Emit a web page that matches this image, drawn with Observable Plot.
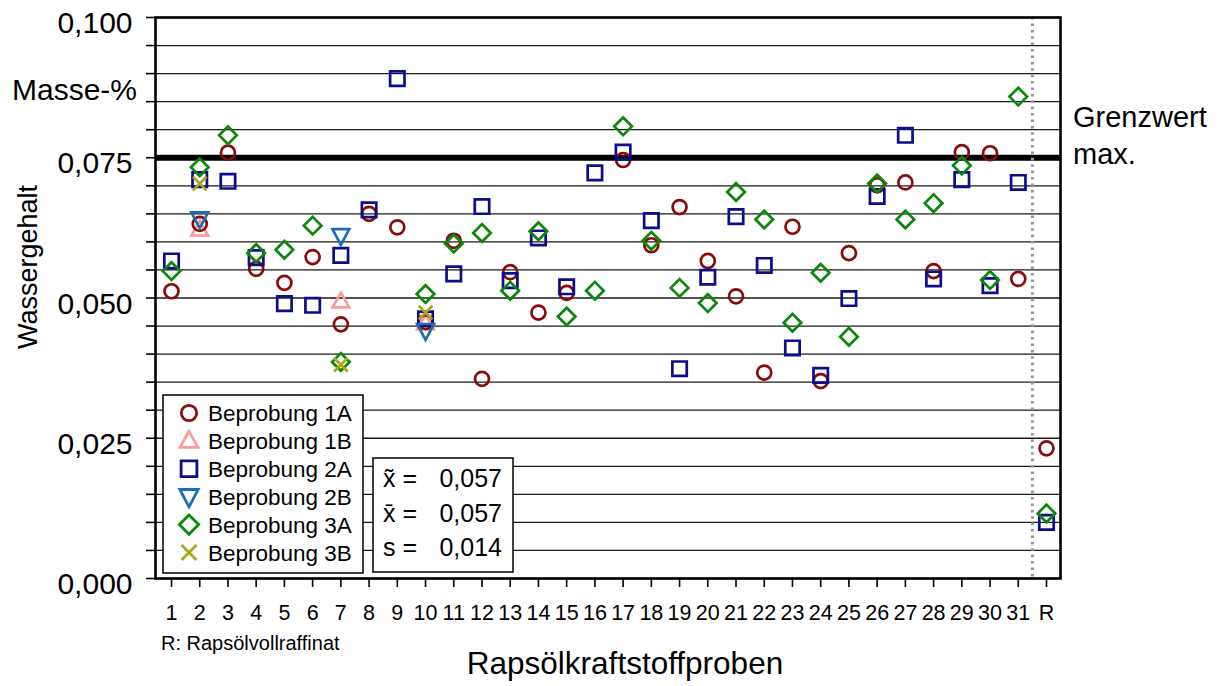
<!DOCTYPE html>
<html>
<head>
<meta charset="utf-8">
<script src="https://cdn.jsdelivr.net/npm/d3@7"></script>
<script src="https://cdn.jsdelivr.net/npm/@observablehq/plot@0.6"></script>
<style>
  html, body { margin: 0; padding: 0; background: #fff; }
  #chart { position: relative; width: 1222px; height: 686px; }
  #chart svg { display: block; }
</style>
</head>
<body>
<div id="chart"></div>
<script>
// Proben 1–31 und das Rapsölvollraffinat (R)
const categories = ["1","2","3","4","5","6","7","8","9","10","11","12","13","14","15","16",
  "17","18","19","20","21","22","23","24","25","26","27","28","29","30","31","R"];

// Wassergehalt in Masse-% je Beprobung (null = keine Messung)
const probe1A = [0.0512,0.0632,0.0759,0.0552,0.0527,0.0573,0.0453,0.0650,0.0626,0.0457,0.0602,0.0356,
  0.0546,0.0474,0.0509,null,0.0746,0.0594,0.0662,0.0566,0.0503,0.0367,0.0627,0.0352,0.0580,0.0701,
  0.0706,0.0548,0.0760,0.0758,0.0534,0.0232];
const probe1B = [null,0.0622,null,null,null,null,0.0494,null,null,0.0455,null,null,null,null,null,null,
  null,null,null,null,null,null,null,null,null,null,null,null,null,null,null,null];
const probe2A = [0.0566,0.0711,0.0708,0.0572,0.0490,0.0487,0.0576,0.0657,0.0891,0.0463,0.0543,0.0663,
  0.0531,0.0607,0.0520,0.0723,0.0760,0.0638,0.0374,0.0537,0.0645,0.0558,0.0411,0.0362,0.0499,0.0681,
  0.0790,0.0534,0.0711,0.0522,0.0706,0.0100];
const probe2B = [null,0.0641,null,null,null,null,0.0611,null,null,0.0442,null,null,null,null,null,null,
  null,null,null,null,null,null,null,null,null,null,null,null,null,null,null,null];
const probe3A = [0.0548,0.0733,0.0790,0.0580,0.0586,0.0629,0.0386,null,null,0.0507,0.0597,0.0616,
  0.0513,0.0619,0.0467,0.0513,0.0806,0.0602,0.0518,0.0491,0.0689,0.0640,0.0456,0.0545,0.0431,0.0704,
  0.0640,0.0669,0.0736,0.0532,0.0859,0.0116];
const probe3B = [null,0.0704,null,null,null,null,0.0381,null,null,0.0474,null,null,null,null,null,null,
  null,null,null,null,null,null,null,null,null,null,null,null,null,null,null,null];

const limitValue = 0.075;                         // Grenzwert max.
const yMajorTicks = [0, 0.025, 0.05, 0.075, 0.1];
const yGridStep = 0.005;
const statsLabels = ["x\u0303 =", "x\u0304 =", "s ="];
const statsValues = [0.057, 0.057, 0.014];

const FONT = "'Liberation Sans', Arial, Helvetica, sans-serif";
const fmt = d3.formatLocale({decimal: ",", thousands: ".", grouping: [3], currency: ["", ""]}).format(".3f");

// Outline symbols; the radius follows the r option of each dot mark
const polygon = (pts) => ({
  draw(ctx, size) {
    const r = Math.sqrt(size / Math.PI);
    pts.forEach(([x, y], k) => k ? ctx.lineTo(x * r, y * r) : ctx.moveTo(x * r, y * r));
    ctx.closePath();
  }
});
const symCircle = {draw(ctx, size) { const r = Math.sqrt(size / Math.PI); ctx.moveTo(r, 0); ctx.arc(0, 0, r, 0, 2 * Math.PI); }};
const symSquare = polygon([[-1, -1], [1, -1], [1, 1], [-1, 1]]);
const symDiamond = polygon([[0, -1], [1, 0], [0, 1], [-1, 0]]);
const symTriUp = polygon([[0, -1.05], [1, 0.72], [-1, 0.72]]);
const symTriDown = polygon([[0, 1.1], [1, -0.78], [-1, -0.78]]);
const symTimes = {draw(ctx, size) {
  const r = Math.sqrt(size / Math.PI);
  ctx.moveTo(-r, -r); ctx.lineTo(r, r); ctx.moveTo(r, -r); ctx.lineTo(-r, r);
}};

const series = [
  {name: "Beprobung 1B", values: probe1B, symbol: symTriUp,   r: 8.3, color: "#ff9a9a"},
  {name: "Beprobung 1A", values: probe1A, symbol: symCircle,  r: 7.0, color: "#8b0a0a"},
  {name: "Beprobung 2A", values: probe2A, symbol: symSquare,  r: 7.2, color: "#0c0c8c"},
  {name: "Beprobung 2B", values: probe2B, symbol: symTriDown, r: 8.4, color: "#1c6eae"},
  {name: "Beprobung 3A", values: probe3A, symbol: symDiamond, r: 8.8, color: "#0b870b"},
  {name: "Beprobung 3B", values: probe3B, symbol: symTimes,   r: 6.8, color: "#a8a818"}
];
const legendOrder = ["Beprobung 1A", "Beprobung 1B", "Beprobung 2A", "Beprobung 2B", "Beprobung 3A", "Beprobung 3B"];

const rows = (values) => values.map((v, i) => ({i: i + 1, v})).filter(d => d.v != null);
const yGrid = d3.range(0, Math.round(0.1 / yGridStep) + 1).map(k => +(k * yGridStep).toFixed(3));
const n = categories.length;

const plot = Plot.plot({
  width: 1222,
  height: 686,
  marginLeft: 155,
  marginRight: 162,
  marginTop: 17,
  marginBottom: 108,
  style: {fontFamily: FONT, background: "#fff", color: "#000", overflow: "visible"},
  x: {type: "linear", domain: [1 - 0.567, n + 0.496]},
  y: {domain: [0, 0.1]},
  marks: [
    Plot.ruleY(yGrid, {stroke: "#1a1a1a", strokeWidth: 1.3}),
    Plot.ruleY([limitValue], {stroke: "#000", strokeWidth: 6}),
    Plot.ruleX([n - 0.5], {stroke: "#9a9a9a", strokeWidth: 3, strokeDasharray: "2.6,3.8"}),
    Plot.frame({stroke: "#000", strokeWidth: 2.6}),
    ...series.map(s => Plot.dot(rows(s.values), {
      x: "i", y: "v", symbol: s.symbol, r: s.r,
      stroke: s.color, strokeWidth: 2.7, fill: "none"
    })),
    // minor ticks on the value axis
    Plot.axisY({ticks: yGrid, tickSize: 9, tickFormat: () => "", label: null, strokeWidth: 1.6}),
    // labelled major ticks
    Plot.axisY({ticks: yMajorTicks, tickSize: 0, tickPadding: 23, tickFormat: fmt, label: null,
      fontSize: 30, dy: 6}),
    Plot.axisX({ticks: d3.range(1, n + 1), tickSize: 9, tickPadding: 17,
      tickFormat: i => categories[i - 1], label: null, fontSize: 21.5, strokeWidth: 1.6})
  ]
});

document.getElementById("chart").appendChild(plot);

// Titles, notes, legend and the statistics box
const svg = d3.select(plot);
const ann = svg.append("g").attr("font-family", FONT).attr("fill", "#000")
  .attr("text-anchor", "start");

ann.append("text").attr("x", 12).attr("y", 100).attr("font-size", 30).text("Masse-%");
ann.append("text").attr("x", 1073).attr("y", 127).attr("font-size", 29).text("Grenzwert");
ann.append("text").attr("x", 1073).attr("y", 164).attr("font-size", 29).text("max.");
ann.append("text").attr("x", 625).attr("y", 674).attr("font-size", 31.5)
  .attr("text-anchor", "middle").text("Rapsölkraftstoffproben");
ann.append("text").attr("transform", "translate(37,267) rotate(-90)").attr("font-size", 27)
  .attr("text-anchor", "middle").text("Wassergehalt");
ann.append("text").attr("x", 161).attr("y", 650).attr("font-size", 20).text("R: Rapsölvollraffinat");

// legend
const lg = ann.append("g").attr("transform", "translate(163,395)");
lg.append("rect").attr("width", 200).attr("height", 178)
  .attr("fill", "#fff").attr("stroke", "#000").attr("stroke-width", 1.5);
legendOrder.forEach((name, k) => {
  const s = series.find(d => d.name === name);
  const cy = 18 + k * 27.9;
  const p = d3.path();
  s.symbol.draw(p, Math.PI * s.r * s.r * 1.2);
  lg.append("path").attr("d", p.toString()).attr("transform", `translate(26,${cy})`)
    .attr("fill", "none").attr("stroke", s.color).attr("stroke-width", 2.8);
  lg.append("text").attr("x", 45).attr("y", cy + 8).attr("font-size", 22.5).text(name);
});

// statistics
const st = ann.append("g").attr("transform", "translate(373,458)");
st.append("rect").attr("width", 140).attr("height", 114)
  .attr("fill", "#fff").attr("stroke", "#000").attr("stroke-width", 1.5);
statsLabels.forEach((label, k) => {
  const y = 29 + k * 34.5;
  st.append("text").attr("x", 10).attr("y", y).attr("font-size", 25).text(label);
  st.append("text").attr("x", 129).attr("y", y).attr("font-size", 25)
    .attr("text-anchor", "end").text(fmt(statsValues[k]));
});
</script>
</body>
</html>
